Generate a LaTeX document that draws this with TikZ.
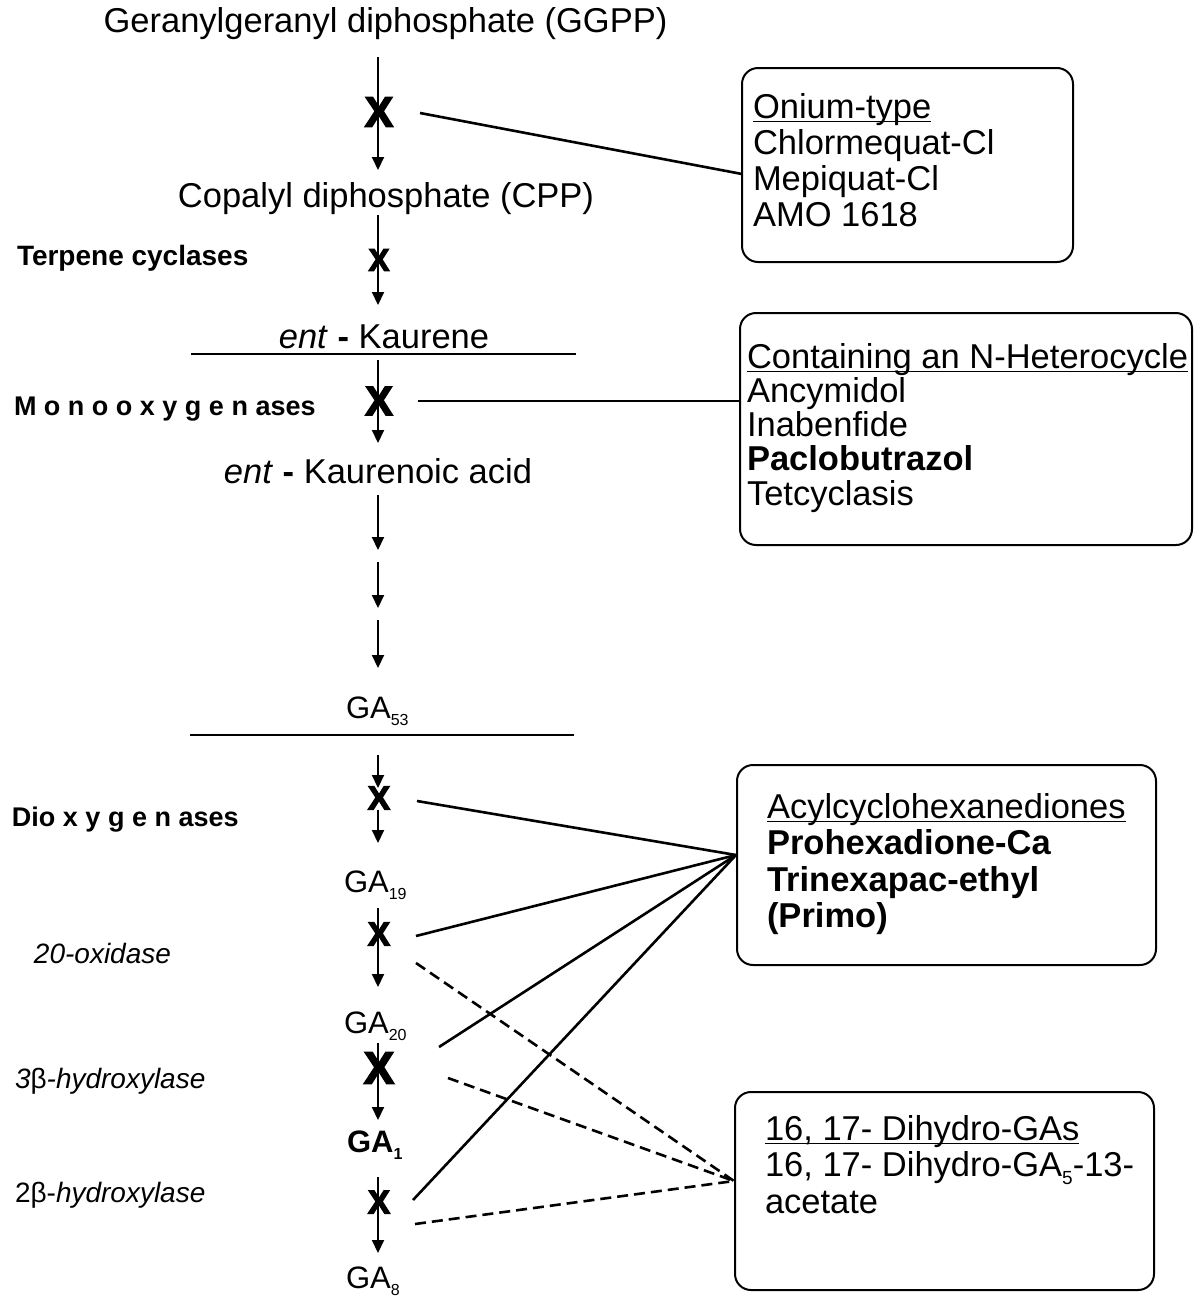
\documentclass[tikz,border=0pt]{standalone}
\usepackage{fontspec}
\setmainfont{Liberation Sans}
\newfontfamily\heavyx[FakeBold=4]{Liberation Sans}
\usetikzlibrary{arrows.meta}
\newsavebox\ulinebox
\newcommand\uln[1]{\sbox\ulinebox{#1}\rlap{\rule[-4pt]{\wd\ulinebox}{1.5pt}}\usebox\ulinebox}
\newcommand\xmk[1]{{\heavyx\bfseries\fontsize{#1}{#1}\selectfont X}}
\newcommand\gsub[1]{\raisebox{-0.25em}{\fontsize{16}{16}\selectfont #1}}
\newcommand\bsub[1]{\raisebox{-0.22em}{\fontsize{19}{19}\selectfont #1}}
\begin{document}
\begin{tikzpicture}[x=1pt,y=-1pt,
  every node/.style={inner sep=0pt, outer sep=0pt},
  main/.style={font=\fontsize{34.5}{40}\selectfont, anchor=base},
  ga/.style={font=\fontsize{31}{36}\selectfont, anchor=base west},
  lab/.style={anchor=base west},
  arr/.style={line width=2pt, -{Triangle[width=12pt,length=13pt]}},
  con/.style={line width=2.6pt},
  dcon/.style={line width=2.6pt, dash pattern=on 11pt off 6pt},
  box/.style={draw, line width=2pt, rounded corners=16pt},
  boxtxt/.style={anchor=north west, align=left},
  sep/.style={line width=1.6pt},
]
\useasboundingbox (0,0) rectangle (1199,1299);
\fill[white] (0,0) rectangle (1199,1299);

% pathway texts
\node[main] (ggpp) at (385.5,32) {Geranylgeranyl diphosphate (GGPP)};
\node[main] (cpp) at (386,207) {Copalyl diphosphate (CPP)};
\node[main] (kaur) at (384,348) {\textit{ent} \textbf{-} Kaurene};
\node[main] (kacid) at (378,483) {\textit{ent} \textbf{-} Kaurenoic acid};
\node[ga] (ga53) at (346,718) {GA\gsub{53}};
\node[ga] (ga19) at (344,892) {GA\gsub{19}};
\node[ga] (ga20) at (344,1033) {GA\gsub{20}};
\node[ga] (ga1) at (347,1152) {\textbf{GA\gsub{1}}};
\node[ga] (ga8) at (346,1288) {GA\gsub{8}};

% enzyme labels
\node[lab, font=\bfseries\fontsize{28}{30}\selectfont] (terp) at (17,265) {Terpene cyclases};
\node[lab, font=\bfseries\fontsize{27}{30}\selectfont] (mono) at (14,415) {M o n o o x y g e n ases};
\node[lab, font=\bfseries\fontsize{27}{30}\selectfont] (diox) at (12,826) {Dio x y g e n ases};
\node[lab, font=\itshape\fontsize{28}{30}\selectfont] (ox20) at (34,963) {20-oxidase};
\node[lab, font=\fontsize{28}{30}\selectfont] (h3) at (15,1088) {\textit{3}β\textit{-hydroxylase}};
\node[lab, font=\fontsize{28}{30}\selectfont] (h2) at (15,1202) {2β-\textit{hydroxylase}};

% separators
\draw[sep] (191,354) -- (576,354);
\draw[sep] (190,735) -- (574,735);

% arrows
\coordinate (a1s) at (378,57);   \coordinate (a1e) at (378,170);
\coordinate (a2s) at (378,215);  \coordinate (a2e) at (378,305);
\coordinate (a3s) at (378,360);  \coordinate (a3e) at (378,443);
\coordinate (a4s) at (378,495);  \coordinate (a4e) at (378,550);
\coordinate (a5s) at (378,562);  \coordinate (a5e) at (378,608);
\coordinate (a6s) at (378,620);  \coordinate (a6e) at (378,668);
\coordinate (a7s) at (378,755);  \coordinate (a7e) at (378,788);
\coordinate (a8s) at (378,810);  \coordinate (a8e) at (378,843);
\coordinate (a9s) at (378,908);  \coordinate (a9e) at (378,987);
\coordinate (a10s) at (378,1043); \coordinate (a10e) at (378,1120);
\coordinate (a11s) at (378,1177); \coordinate (a11e) at (378,1253);
\foreach \i in {1,...,11} \draw[arr] (a\i s) -- (a\i e);

% block marks
\node (x1) at (379,112) {\xmk{42}};
\node (x2) at (379,260) {\xmk{31}};
\node (x3) at (379,401) {\xmk{41}};
\node (x4) at (379,798) {\xmk{33}};
\node (x5) at (379,934) {\xmk{33}};
\node (x6) at (379,1068) {\xmk{45}};
\node (x7) at (379,1202) {\xmk{33}};

% boxes
\node[box, minimum width=331pt, minimum height=194pt] (onium) at (907.5,165) {};
\node[boxtxt, font=\fontsize{34.5}{36}\selectfont] (oniumT) at (753,93)
  {\uln{Onium-type}\\Chlormequat-Cl\\Mepiquat-Cl\\AMO 1618};
\node[box, minimum width=452pt, minimum height=232pt] (nhet) at (966,429) {};
\node[boxtxt, font=\fontsize{34.5}{34.3}\selectfont] (nhetT) at (747,343)
  {\uln{Containing an N-Heterocycle}\\Ancymidol\\Inabenfide\\\textbf{Paclobutrazol}\\Tetcyclasis};
\node[box, minimum width=419pt, minimum height=200pt] (acyl) at (946.5,865) {};
\node[boxtxt, font=\fontsize{34.5}{36.5}\selectfont] (acylT) at (767,793)
  {\uln{Acylcyclohexanediones}\\\textbf{Prohexadione-Ca}\\\textbf{Trinexapac-ethyl}\\\textbf{(Primo)}};
\node[box, minimum width=419pt, minimum height=198pt] (dihy) at (944.5,1191) {};
\node[boxtxt, font=\fontsize{34.5}{36.5}\selectfont] (dihyT) at (765,1115)
  {\uln{16, 17- Dihydro-GAs}\\16, 17- Dihydro-GA\bsub{5}-13-\\acetate};

% connector ends
\coordinate (c1) at (420,113);  \coordinate (oniumIn) at (742,174);
\coordinate (c2) at (418,401);  \coordinate (nhetIn) at (740,401);
\coordinate (s1) at (417,801);
\coordinate (s2) at (416,936);
\coordinate (s3) at (439,1047);
\coordinate (s4) at (413,1200);
\coordinate (acylIn) at (736,855);
\coordinate (d1) at (416,963);
\coordinate (d2) at (448,1078);
\coordinate (d3) at (415,1224);
\coordinate (dihyIn) at (734,1181);

\draw[con] (c1) -- (oniumIn);
\draw[con] (c2) -- (nhetIn);
\foreach \s in {s1,s2,s3,s4} \draw[con] (\s) -- (acylIn);
\foreach \d in {d1,d2,d3} \draw[dcon] (\d) -- (dihyIn);
\end{tikzpicture}
\end{document}
